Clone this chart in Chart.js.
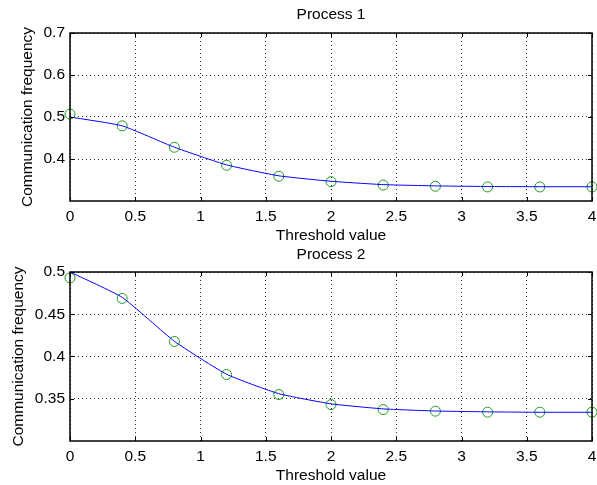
<!DOCTYPE html>
<html>
<head>
<meta charset="utf-8">
<script src="https://cdn.jsdelivr.net/npm/chart.js@4"></script>
<style>
  html, body { margin: 0; padding: 0; background: #fff; }
  .wrap { position: absolute; left: 0; width: 597px; height: 245px; }
  #top-wrap { top: 0; }
  #bottom-wrap { top: 240px; }
</style>
</head>
<body>
<div class="wrap" id="top-wrap"><canvas id="chart1"></canvas></div>
<div class="wrap" id="bottom-wrap"><canvas id="chart2"></canvas></div>
<script>
// Threshold values (x axis)
const thresholds = [0, 0.4, 0.8, 1.2, 1.6, 2.0, 2.4, 2.8, 3.2, 3.6, 4.0];

// Process 1: fitted curve and measured circles
const process1Line = [0.500, 0.479, 0.428, 0.386, 0.360, 0.347, 0.339, 0.336, 0.3345, 0.334, 0.334];
const process1Marks = [0.507, 0.479, 0.428, 0.385, 0.359, 0.346, 0.338, 0.335, 0.3335, 0.3335, 0.3335];

// Process 2: fitted curve and measured circles
const process2Line = [0.500, 0.470, 0.418, 0.379, 0.356, 0.344, 0.338, 0.3355, 0.3345, 0.334, 0.334];
const process2Marks = [0.493, 0.4687, 0.4178, 0.3787, 0.355, 0.3431, 0.3372, 0.3353, 0.3341, 0.3341, 0.3341];

// Tick labels
const xTicks = [0, 0.5, 1, 1.5, 2, 2.5, 3, 3.5, 4];
const yTicksTop = [0.4, 0.5, 0.6, 0.7];
const yTicksBottom = [0.35, 0.4, 0.45, 0.5];

const fontFamily = "'Liberation Sans', Arial, Helvetica, sans-serif";
const fontSize = 15.5;

// draws the black box round the plot area, with small inward ticks
const boxPlugin = {
    id: "box",
    afterDraw(chart) {
        const { ctx, chartArea: a, scales } = chart;
        ctx.save();
        ctx.strokeStyle = "#000";
        ctx.lineWidth = 1;
        ctx.beginPath();
        scales.x.ticks.forEach(t => {
            const px = Math.round(scales.x.getPixelForValue(t.value)) + 0.5;
            ctx.moveTo(px, a.bottom); ctx.lineTo(px, a.bottom - 4);
            ctx.moveTo(px, a.top); ctx.lineTo(px, a.top + 4);
        });
        scales.y.ticks.forEach(t => {
            const py = Math.round(scales.y.getPixelForValue(t.value)) + 0.5;
            ctx.moveTo(a.left, py); ctx.lineTo(a.left + 4, py);
            ctx.moveTo(a.right, py); ctx.lineTo(a.right - 4, py);
        });
        ctx.stroke();
        ctx.lineWidth = 1.5;
        ctx.strokeRect(a.left, a.top, a.right - a.left, a.bottom - a.top);
        ctx.restore();
    }
};

function toPoints(values) {
    return values.map((v, i) => ({ x: thresholds[i], y: v }));
}

function buildPanel(canvasId, title, lineVals, markVals, yMin, yMax, yTicks, yTitlePad, topHeight) {
    const ctx = document.getElementById(canvasId).getContext("2d");
    return new Chart(ctx, {
        type: "line",
        data: {
            datasets: [
                {
                    label: "fit",
                    data: toPoints(lineVals),
                    borderColor: "#0000ff",
                    borderWidth: 1,
                    pointRadius: 0,
                    tension: 0.15,
                    fill: false,
                    clip: false
                },
                {
                    label: "measured",
                    data: toPoints(markVals),
                    showLine: false,
                    pointStyle: "circle",
                    pointRadius: 5,
                    pointBorderWidth: 1,
                    pointBorderColor: "#1f9a1f",
                    pointBackgroundColor: "rgba(0,0,0,0)",
                    clip: false
                }
            ]
        },
        options: {
            responsive: true,
            maintainAspectRatio: false,
            animation: false,
            layout: { autoPadding: false, padding: { left: 0, right: 0, top: 0, bottom: 0 } },
            plugins: {
                legend: { display: false },
                tooltip: { enabled: false }
            },
            scales: {
                x: {
                    type: "linear",
                    min: 0,
                    max: 4,
                    afterBuildTicks: s => { s.ticks = xTicks.map(v => ({ value: v })); },
                    afterFit: s => { s.height = 44; s.paddingLeft = 0; s.paddingRight = 5; },
                    grid: { color: "#333", drawTicks: false, lineWidth: 1 },
                    border: { display: false, dash: [1, 3] },
                    ticks: {
                        color: "#000",
                        padding: 6,
                        maxRotation: 0,
                        font: { family: fontFamily, size: fontSize },
                        callback: v => String(v)
                    },
                    title: {
                        display: true,
                        text: "Threshold value",
                        color: "#000",
                        font: { family: fontFamily, size: fontSize },
                        padding: { top: 0, bottom: 0 }
                    }
                },
                // top axis only carries the panel title, centred over the plot
                xTop: {
                    type: "linear",
                    position: "top",
                    min: 0,
                    max: 4,
                    afterFit: s => { s.height = topHeight; s.paddingLeft = 0; s.paddingRight = 0; },
                    grid: { display: false },
                    border: { display: false },
                    ticks: { display: false },
                    title: {
                        display: true,
                        text: title,
                        color: "#000",
                        font: { family: fontFamily, size: fontSize },
                        padding: { top: 5, bottom: 0 }
                    }
                },
                y: {
                    type: "linear",
                    min: yMin,
                    max: yMax,
                    afterBuildTicks: s => { s.ticks = yTicks.map(v => ({ value: v })); },
                    afterFit: s => { s.width = 70; },
                    grid: { color: "#333", drawTicks: false, lineWidth: 1 },
                    border: { display: false, dash: [1, 3] },
                    ticks: {
                        color: "#000",
                        padding: 5,
                        font: { family: fontFamily, size: fontSize },
                        callback: v => String(v)
                    },
                    title: {
                        display: true,
                        text: "Communication frequency",
                        color: "#000",
                        font: { family: fontFamily, size: fontSize },
                        padding: { top: yTitlePad, bottom: 0 }
                    }
                }
            }
        },
        plugins: [boxPlugin]
    });
}

buildPanel("chart1", "Process 1", process1Line, process1Marks, 0.3, 0.7, yTicksTop, 18, 33);
buildPanel("chart2", "Process 2", process2Line, process2Marks, 0.3, 0.5, yTicksBottom, 9, 32);
</script>
</body>
</html>
